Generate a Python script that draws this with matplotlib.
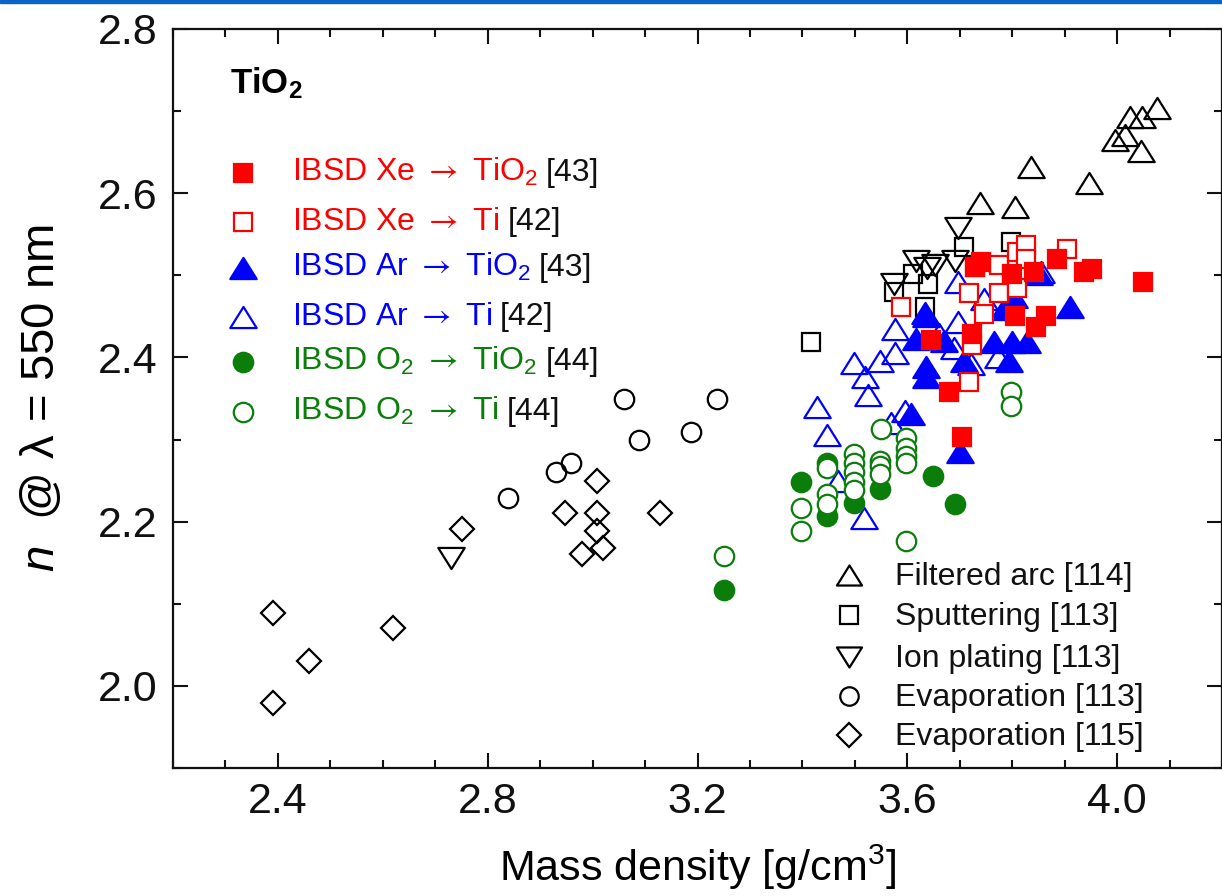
import matplotlib
matplotlib.use("Agg")
import matplotlib.pyplot as plt
from matplotlib.path import Path
from matplotlib.patches import Rectangle
from matplotlib.ticker import MultipleLocator
from matplotlib import transforms

plt.rcParams['font.family'] = ['Liberation Sans', 'DejaVu Sans']
plt.rcParams['mathtext.fontset'] = 'custom'
plt.rcParams['mathtext.rm'] = 'Liberation Sans'
plt.rcParams['mathtext.it'] = 'Liberation Sans:italic'
plt.rcParams['mathtext.bf'] = 'Liberation Sans:bold'
plt.rcParams['mathtext.sf'] = 'STIXGeneral'
plt.rcParams['mathtext.default'] = 'regular'

# ---------------- data ----------------
xe_tio2_x = [3.645, 3.680, 3.705, 3.724, 3.730, 3.740, 3.800, 3.806, 3.841, 3.845, 3.864, 3.886, 3.936, 3.952, 4.050]
xe_tio2_y = [2.421, 2.358, 2.303, 2.429, 2.510, 2.516, 2.502, 2.451, 2.504, 2.437, 2.451, 2.520, 2.504, 2.508, 2.492]

xe_ti_x = [3.588, 3.718, 3.718, 3.730, 3.746, 3.775, 3.775, 3.810, 3.810, 3.826, 3.826, 3.905, 3.724]
xe_ti_y = [2.461, 2.370, 2.478, 2.510, 2.453, 2.512, 2.478, 2.484, 2.528, 2.537, 2.520, 2.532, 2.415]

ar_tio2_x = [3.911, 3.803, 3.784, 3.635, 3.616, 3.765, 3.800, 3.829, 3.794, 3.708, 3.635, 3.635, 3.607, 3.851, 3.700, 3.670, 3.633]
ar_tio2_y = [2.461, 2.474, 2.459, 2.451, 2.423, 2.419, 2.419, 2.419, 2.396, 2.396, 2.388, 2.376, 2.331, 2.502, 2.285, 2.420, 2.454]

ar_ti_x = [3.428, 3.447, 3.468, 3.498, 3.517, 3.519, 3.525, 3.548, 3.576, 3.576, 3.595, 3.568, 3.661, 3.689, 3.696, 3.696, 3.721, 3.746, 3.772, 3.854]
ar_ti_y = [2.340, 2.305, 2.250, 2.393, 2.204, 2.376, 2.354, 2.396, 2.406, 2.435, 2.335, 2.320, 2.429, 2.412, 2.443, 2.492, 2.392, 2.471, 2.400, 2.504]

o2_tio2_x = [3.250, 3.398, 3.447, 3.447, 3.498, 3.548, 3.649, 3.690]
o2_tio2_y = [2.117, 2.248, 2.272, 2.207, 2.223, 2.240, 2.256, 2.222]

o2_ti_x = [3.250, 3.398, 3.398, 3.447, 3.447, 3.447, 3.498, 3.498, 3.498, 3.498, 3.498, 3.548, 3.548, 3.548, 3.550, 3.597, 3.597, 3.597, 3.597, 3.597, 3.797, 3.797]
o2_ti_y = [2.158, 2.217, 2.189, 2.265, 2.234, 2.222, 2.283, 2.271, 2.260, 2.248, 2.238, 2.274, 2.268, 2.258, 2.313, 2.302, 2.290, 2.280, 2.272, 2.177, 2.358, 2.341]

arc_x = [4.076, 4.047, 4.025, 4.015, 3.996, 4.046, 3.836, 3.947, 3.738, 3.806]
arc_y = [2.704, 2.693, 2.693, 2.671, 2.665, 2.652, 2.632, 2.612, 2.588, 2.583]

sput_x = [3.417, 3.575, 3.610, 3.640, 3.633, 3.708, 3.797]
sput_y = [2.419, 2.480, 2.502, 2.490, 2.462, 2.534, 2.541]

ion_x = [2.730, 3.575, 3.616, 3.638, 3.652, 3.690, 3.696]
ion_y = [2.156, 2.490, 2.518, 2.509, 2.512, 2.518, 2.558]

evap113_x = [2.839, 2.930, 2.958, 3.059, 3.089, 3.188, 3.238]
evap113_y = [2.229, 2.260, 2.271, 2.350, 2.300, 2.309, 2.350]

evap115_x = [2.390, 2.390, 2.460, 2.620, 2.751, 2.948, 3.008, 3.008, 3.008, 3.019, 2.979, 3.129]
evap115_y = [2.089, 1.979, 2.030, 2.071, 2.191, 2.210, 2.250, 2.211, 2.189, 2.168, 2.161, 2.210]

x_ticks = [2.4, 2.8, 3.2, 3.6, 4.0]
y_ticks = [2.0, 2.2, 2.4, 2.6, 2.8]

# ---------------- styling ----------------
RED = '#ff0000'
BLUE = '#0000ff'
GREEN = '#0a7d0a'
tri_up = Path([(0, 0.8), (-1, -0.8), (1, -0.8), (0, 0.8)], [1, 2, 2, 79])
tri_dn = Path([(0, -0.8), (-1, 0.8), (1, 0.8), (0, -0.8)], [1, 2, 2, 79])
EW = 1.6
MS_SQ = 13.5
MS_CI = 14
MS_TR = 19
MS_DI = 12.7
ARROW = r'$\mathsf{\rightarrow}$'

fig = plt.figure(figsize=(12.22, 8.96), dpi=100)
ax = fig.add_axes([173 / 1222, 1 - 768 / 896, 1049 / 1222, (768 - 29) / 896])
fig.patches.append(Rectangle((0, 1 - 3 / 896), 1, 3 / 896, transform=fig.transFigure,
                             color='#0a64c8', zorder=10))

def pl(x, y, marker, ms, color, fill, z):
    ax.plot(x, y, linestyle='none', marker=marker, markersize=ms,
            markeredgecolor=color, markerfacecolor=fill, markeredgewidth=EW,
            zorder=z, clip_on=False)

pl(arc_x, arc_y, tri_up, MS_TR, 'black', 'none', 2)
pl(sput_x, sput_y, 's', MS_SQ, 'black', 'none', 2)
pl(ion_x, ion_y, tri_dn, MS_TR, 'black', 'none', 2)
pl(evap113_x, evap113_y, 'o', MS_CI, 'black', 'none', 2)
pl(evap115_x, evap115_y, 'D', MS_DI, 'black', 'none', 2)
pl(ar_ti_x, ar_ti_y, tri_up, MS_TR, BLUE, 'none', 3)
pl(ar_tio2_x, ar_tio2_y, tri_up, MS_TR, BLUE, BLUE, 4)
pl(o2_tio2_x, o2_tio2_y, 'o', MS_CI, GREEN, GREEN, 5)
pl(o2_ti_x, o2_ti_y, 'o', MS_CI, GREEN, 'white', 6)
pl(xe_ti_x, xe_ti_y, 's', MS_SQ, RED, 'white', 7)
pl(xe_tio2_x, xe_tio2_y, 's', MS_SQ, RED, RED, 8)

ax.set_xlim(2.2, 4.2)
ax.set_ylim(1.9, 2.8)
ax.set_xticks(x_ticks)
ax.set_yticks(y_ticks)
ax.xaxis.set_minor_locator(MultipleLocator(0.1))
ax.yaxis.set_minor_locator(MultipleLocator(0.1))
ax.set_xticklabels([f'{v:.1f}' for v in x_ticks])
ax.set_yticklabels([f'{v:.1f}' for v in y_ticks])
ax.tick_params(which='both', direction='in', top=True, right=True, width=1.5, colors='#111111')
ax.tick_params(which='major', length=11, labelsize=31)
ax.tick_params(axis='x', which='major', pad=10)
ax.tick_params(axis='y', which='major', pad=11)
ax.tick_params(which='minor', length=6)
for s in ax.spines.values():
    s.set_linewidth(1.6)
    s.set_color('#111111')

ax.set_xlabel('Mass density [g/cm$^3$]', fontsize=31, labelpad=15)
ax.set_ylabel('$\\mathit{n}$  @ λ = 550 nm', fontsize=34, va='center')
ax.yaxis.set_label_coords(-0.125, 0.5)

# TiO2 label
ax.text(57 / 1049, (768 - 83) / 739, 'TiO$_\\mathbf{2}$', transform=ax.transAxes,
        fontsize=25, fontweight='bold', va='center', ha='left')

# ---------------- legends (manual) ----------------
def axfrac_y(py):
    return (768 - py) / 739

def axfrac_x(px):
    return (px - 173) / 1049

fig.canvas.draw()
renderer = fig.canvas.get_renderer()

def two_color_text(px, py_base, s1, c1, s2, c2, fs):
    t1 = ax.text(axfrac_x(px), axfrac_y(py_base), s1, color=c1, fontsize=fs,
                 transform=ax.transAxes, va='baseline', ha='left')
    w = t1.get_window_extent(renderer=renderer).width
    tr = transforms.offset_copy(ax.transAxes, fig=fig, x=w + 8, y=0, units='dots')
    ax.text(axfrac_x(px), axfrac_y(py_base), s2, color=c2, fontsize=fs,
            transform=tr, va='baseline', ha='left')

up_rows = [172.7, 221.7, 268.3, 316.7, 361.7, 411.7]
up_entries = [
    ('s', MS_SQ, RED, RED, 'IBSD Xe ' + ARROW + ' TiO$_2$', RED, '[43]'),
    ('s', MS_SQ, RED, 'white', 'IBSD Xe ' + ARROW + ' Ti', RED, '[42]'),
    (tri_up, MS_TR, BLUE, BLUE, 'IBSD Ar ' + ARROW + ' TiO$_2$', BLUE, '[43]'),
    (tri_up, MS_TR, BLUE, 'none', 'IBSD Ar ' + ARROW + ' Ti', BLUE, '[42]'),
    ('o', MS_CI, GREEN, GREEN, 'IBSD O$_2$ ' + ARROW + ' TiO$_2$', GREEN, '[44]'),
    ('o', MS_CI, GREEN, 'none', 'IBSD O$_2$ ' + ARROW + ' Ti', GREEN, '[44]'),
]
for py, (mk, ms, ec, fc, s1, c1, s2) in zip(up_rows, up_entries):
    ax.plot([axfrac_x(243)], [axfrac_y(py)], transform=ax.transAxes, linestyle='none',
            marker=mk, markersize=ms, markeredgecolor=ec, markerfacecolor=fc,
            markeredgewidth=EW, clip_on=False)
    two_color_text(292, py + 8, s1, c1, s2, '#111111', 23)

low_rows = [575, 615, 657, 696, 735]
low_entries = [
    (tri_up, MS_TR, 'Filtered arc [114]'),
    ('s', MS_SQ, 'Sputtering [113]'),
    (tri_dn, MS_TR, 'Ion plating [113]'),
    ('o', MS_CI, 'Evaporation [113]'),
    ('D', MS_DI, 'Evaporation [115]'),
]
for py, (mk, ms, lab) in zip(low_rows, low_entries):
    ax.plot([axfrac_x(849)], [axfrac_y(py)], transform=ax.transAxes, linestyle='none',
            marker=mk, markersize=ms * 0.95, markeredgecolor='black', markerfacecolor='none',
            markeredgewidth=EW, clip_on=False)
    ax.text(axfrac_x(895), axfrac_y(py + 10), lab, color='#111111', fontsize=23,
            transform=ax.transAxes, va='baseline', ha='left')

fig.savefig('out.png', dpi=100)
